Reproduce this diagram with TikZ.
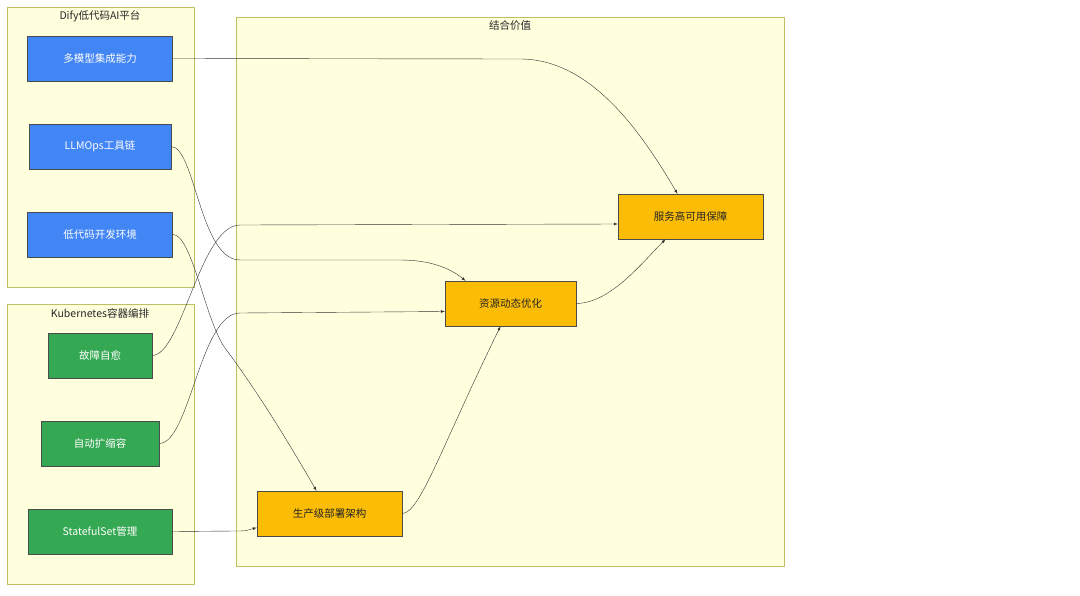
\documentclass[tikz,border=0pt]{standalone}
\usepackage{fontspec}
\setmainfont{Noto Sans CJK SC}
\usepackage{tikz}
\usetikzlibrary{calc,positioning}
\definecolor{clfill}{RGB}{255,255,222}
\definecolor{cldraw}{RGB}{190,190,100}
\definecolor{gblue}{RGB}{66,133,244}
\definecolor{ggreen}{RGB}{52,168,83}
\definecolor{gorange}{RGB}{251,188,5}
\tikzset{
  cluster/.style={draw=cldraw,fill=clfill},
  ctitle/.style={font=\fontsize{10.5}{12}\selectfont,text=black!85},
  box/.style={draw=black!70,minimum height=45pt,inner sep=0pt,font=\fontsize{10.5}{12}\selectfont},
  dify/.style={box,fill=gblue,text=white},
  kube/.style={box,fill=ggreen,text=white},
  val/.style={box,fill=gorange,text=black!85},
  link/.style={draw=black!80,thin,-latex}
}
\begin{document}
\begin{tikzpicture}[x=1pt,y=-1pt]
    \useasboundingbox (0,0) rectangle (1080,595);

    % subgraphs
    \draw[cluster] (7,7) rectangle (194,287);
    \draw[cluster] (7,304) rectangle (194,584);
    \draw[cluster] (236,17) rectangle (784,566);
    \node[ctitle] (tDify) at (100,16) {Dify低代码AI平台};
    \node[ctitle] (tKube) at (100,313) {Kubernetes容器编排};
    \node[ctitle] (tVal) at (510,26) {结合价值};

    % nodes
    \node[dify,minimum width=145pt] (multi) at (100,58.5) {多模型集成能力};
    \node[dify,minimum width=142pt] (llmops) at (100,146.5) {LLMOps工具链};
    \node[dify,minimum width=145pt] (lowcode) at (100,234.5) {低代码开发环境};
    \node[kube,minimum width=104pt] (heal) at (100,355.5) {故障自愈};
    \node[kube,minimum width=118pt] (scale) at (100,443.5) {自动扩缩容};
    \node[kube,minimum width=144pt] (sts) at (100,531.5) {StatefulSet管理};
    \node[val,minimum width=145pt] (ha) at (690.5,216.5) {服务高可用保障};
    \node[val,minimum width=131pt] (res) at (510.5,303.5) {资源动态优化};
    \node[val,minimum width=145pt] (prod) at (329.5,513.5) {生产级部署架构};

    % connectors
    \draw[link] (multi.east) -- (520,59) .. controls (590,59) and (640,130) .. ([xshift=-13pt]ha.north);
    \draw[link] (llmops.east) .. controls (195,147) and (200,260) .. (240,260) -- (400,260)
                .. controls (430,260) and (450,268) .. ([xshift=-45pt]res.north);
    \draw[link] (lowcode.east) .. controls (192,234) and (205,320) .. (225,348)
                .. controls (260,395) and (290,445) .. ([xshift=-13pt]prod.north);
    \draw[link] (heal.east) .. controls (182,355) and (200,225) .. (240,225) -- ([yshift=-7.5pt]ha.west);
    \draw[link] (scale.east) .. controls (190,443) and (200,313) .. (240,313) -- ([yshift=-8pt]res.west);
    \draw[link] (sts.east) -- (235,531) .. controls (245,531) .. ([yshift=-14pt]prod.west);
    \draw[link] (prod.east) .. controls (420,513) and (440,450) .. ([xshift=-10pt]res.south);
    \draw[link] (res.east) .. controls (610,303) and (640,265) .. ([xshift=-25pt]ha.south);
\end{tikzpicture}
\end{document}
